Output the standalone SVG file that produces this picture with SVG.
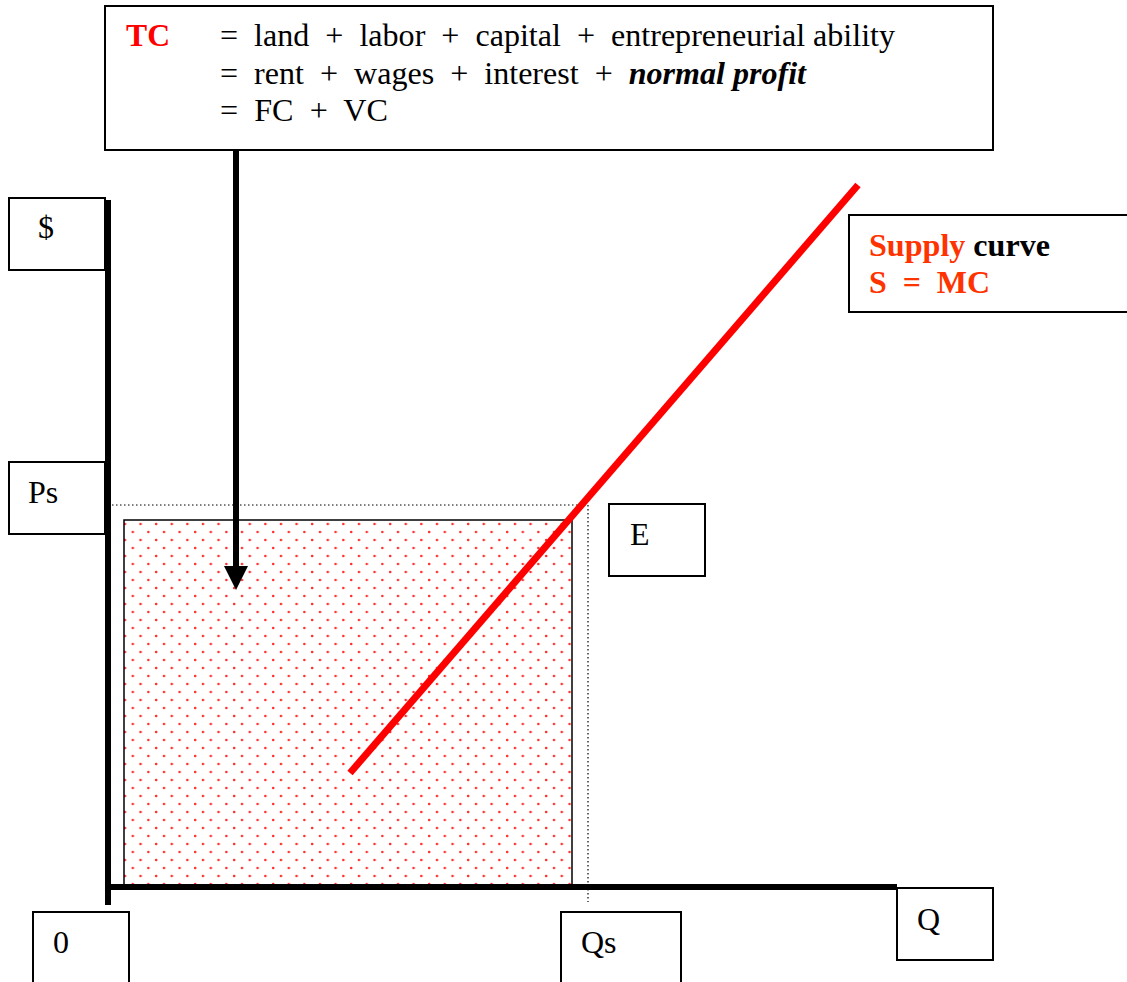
<svg xmlns="http://www.w3.org/2000/svg" width="1127" height="982" viewBox="0 0 1127 982">
<defs>
<style>
.box{fill:#fff;stroke:#000;stroke-width:2}
.t{font-family:"Liberation Serif","Times New Roman",serif;font-size:32px;fill:#000}
.b{font-weight:bold}
.red{fill:#ff0000}
.org{fill:#ff3300}
</style>
<pattern id="dots" x="0" y="0" width="15.6" height="16" patternUnits="userSpaceOnUse">
<circle cx="8" cy="4" r="1.3" fill="#ff3030"/>
<circle cx="15.8" cy="12" r="1.3" fill="#ff3030"/>
<circle cx="0.2" cy="12" r="1.3" fill="#ff3030"/>
</pattern>
</defs>
<rect width="1127" height="982" fill="#fff"/>
<g id="area">
<rect x="124" y="520" width="448" height="367" fill="url(#dots)" stroke="#000" stroke-width="1.5"/>
</g>
<g id="guides" stroke="#000" stroke-width="1.2" stroke-dasharray="1.5,2.5" fill="none">
<line x1="112" y1="505" x2="588" y2="505"/>
<line x1="588" y1="505" x2="588" y2="902"/>
</g>
<g id="axes" stroke="#000" stroke-width="6" fill="none">
<line x1="108" y1="200" x2="108" y2="905"/>
<line x1="105" y1="887" x2="897" y2="887"/>
</g>
<g id="supply">
<line x1="350" y1="773" x2="858" y2="185" stroke="#ff0000" stroke-width="7"/>
</g>
<g id="connectors">
<line x1="236" y1="150" x2="236" y2="570" stroke="#000" stroke-width="6"/>
<polygon points="224,566 248,566 236,590" fill="#000"/>
</g>
<g id="tc">
<rect class="box" x="105" y="6" width="888" height="144"/>
<text class="t b red" x="126" y="46" textLength="44" lengthAdjust="spacingAndGlyphs">TC</text>
<text class="t" x="220" y="46" xml:space="preserve" textLength="675" lengthAdjust="spacingAndGlyphs">=  land  +  labor  +  capital  +  entrepreneurial ability</text>
<text class="t" x="220" y="84" xml:space="preserve" textLength="586" lengthAdjust="spacingAndGlyphs">=  rent  +  wages  +  interest  +  <tspan font-weight="bold" font-style="italic">normal profit</tspan></text>
<text class="t" x="220" y="121" xml:space="preserve" textLength="168" lengthAdjust="spacingAndGlyphs">=  FC  +  VC</text>
</g>
<g id="dollar">
<rect class="box" x="9" y="198" width="96" height="72"/>
<text class="t" x="38" y="238">$</text>
</g>
<g id="ps">
<rect class="box" x="9" y="462" width="96" height="72"/>
<text class="t" x="28" y="503">Ps</text>
</g>
<g id="e">
<rect class="box" x="609" y="504" width="96" height="72"/>
<text class="t" x="630" y="545">E</text>
</g>
<g id="supplylabel">
<rect class="box" x="849" y="215" width="290" height="97"/>
<text class="t b" x="869" y="256" xml:space="preserve" textLength="181" lengthAdjust="spacingAndGlyphs"><tspan class="org">Supply</tspan> curve</text>
<text class="t b org" x="869" y="293" xml:space="preserve" textLength="121" lengthAdjust="spacingAndGlyphs">S  =  MC</text>
</g>
<g id="zero">
<rect class="box" x="33" y="912" width="96" height="80"/>
<text class="t" x="53" y="953">0</text>
</g>
<g id="qs">
<rect class="box" x="561" y="912" width="120" height="80"/>
<text class="t" x="581" y="953">Qs</text>
</g>
<g id="q">
<rect class="box" x="897" y="888" width="96" height="72"/>
<text class="t" x="917" y="930">Q</text>
</g>
</svg>
